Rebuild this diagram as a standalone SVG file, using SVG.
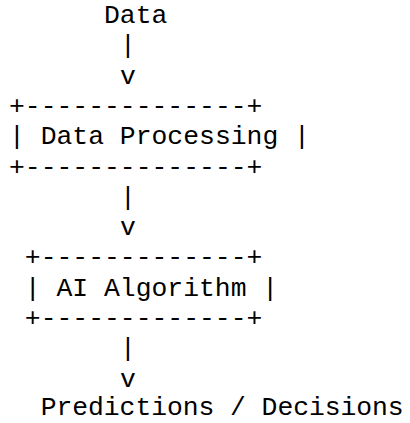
<svg xmlns="http://www.w3.org/2000/svg" width="410" height="423" viewBox="0 0 410 423">
<style>
text{font-family:"Liberation Mono","Courier New",monospace;font-size:26.4px;fill:#000;white-space:pre}
</style>
<rect width="410" height="423" fill="#fff"/>
<g id="data"><text x="104" y="23">Data</text></g>
<g id="connectors">
<text x="119.9" y="53.3">|</text>
<text x="119.9" y="83.6">v</text>
<text x="119.9" y="204.8">|</text>
<text x="119.9" y="235.1">v</text>
<text x="119.9" y="356.3">|</text>
<text x="119.9" y="386.6">v</text>
</g>
<g id="data-processing">
<text x="9" y="113.9">+--------------+</text>
<text x="9" y="144.2">| Data Processing |</text>
<text x="9" y="174.5">+--------------+</text>
</g>
<g id="ai-algorithm">
<text x="24.8" y="265.4">+-------------+</text>
<text x="24.8" y="295.7">| AI Algorithm |</text>
<text x="24.8" y="326">+-------------+</text>
</g>
<g id="predictions"><text x="40.7" y="414.5" font-size="25.8" textLength="363" lengthAdjust="spacing">Predictions / Decisions</text></g>
</svg>
